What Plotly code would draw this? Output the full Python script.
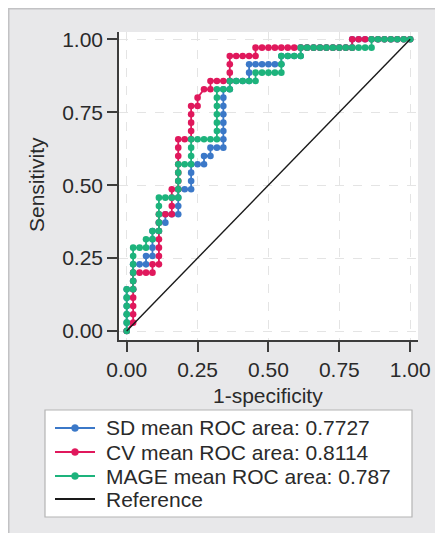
import plotly.graph_objects as go

# ---------------- data (counts) ----------------
N_NEG = 44   # negatives -> 1-specificity steps
N_POS = 35   # positives -> sensitivity steps

sd_fp = [0, 0, 0, 0, 0, 0, 1, 1, 1, 1,
         2, 3, 3, 4, 4, 4, 4, 5, 5, 6, 6, 7, 8, 8, 8, 8, 9, 10, 10, 10, 10, 11, 12, 12, 13, 13, 14,
         15, 15, 15, 15, 15, 15, 15, 15, 16, 16, 17, 18, 19, 19, 19, 20, 21, 22, 23, 24, 24, 25, 26, 27, 27,
         28, 29, 30, 31, 32, 33, 34, 35, 35, 36, 37, 38, 39, 40, 41, 42, 43, 44]
sd_tp = [0, 1, 2, 3, 4, 5, 5, 6, 7, 8,
         8, 8, 9, 9, 10, 11, 12, 12, 13, 13, 14, 14, 14, 15, 16, 17, 17, 17, 18, 19, 20, 20, 20, 21, 21, 22, 22,
         22, 23, 24, 25, 26, 27, 28, 29, 29, 30, 30, 30, 30, 31, 32, 32, 32, 32, 32, 32, 33, 33, 33, 33, 34,
         34, 34, 34, 34, 34, 34, 34, 34, 35, 35, 35, 35, 35, 35, 35, 35, 35, 35]

cv_fp = [0, 1, 1, 1, 1, 1, 1, 1, 2, 3, 4, 4, 5, 5, 5, 5, 5, 5, 5, 6, 7, 7, 7, 7,
         8, 8, 8, 8, 8, 8, 8, 9, 10, 10, 10, 10, 10, 11, 11, 12, 13, 13, 14, 15, 16, 16, 16, 16,
         17, 18, 19, 20, 20, 21, 22, 23, 24, 25, 26, 27, 28, 29, 30, 31, 32, 33, 34, 35, 35,
         36, 37, 38, 39, 40, 41, 42, 43, 44]
cv_tp = [0, 1, 2, 3, 4, 5, 6, 7, 7, 7, 7, 8, 8, 9, 10, 11, 12, 13, 14, 14, 14, 15, 16, 17,
         17, 18, 19, 20, 21, 22, 23, 23, 23, 24, 25, 26, 27, 27, 28, 29, 29, 30, 30, 30, 30, 31, 32, 33,
         33, 33, 33, 33, 34, 34, 34, 34, 34, 34, 34, 34, 34, 34, 34, 34, 34, 34, 34, 34, 35,
         35, 35, 35, 35, 35, 35, 35, 35, 35]

mage_fp = [0, 0, 0, 0, 0, 0, 1, 1, 1, 1, 1, 1, 2, 3, 3, 4, 4, 5, 5, 5, 5, 5,
           6, 7, 8, 8, 8, 8, 8, 9, 10, 10, 10, 10, 11, 12, 13, 14, 14, 14, 14, 14, 14, 14,
           15, 16, 16, 17, 18, 19, 20, 20, 21, 22, 23, 24, 24, 24, 25, 26, 27, 27,
           28, 29, 30, 31, 32, 33, 34, 35, 36, 37, 38, 38, 39, 40, 41, 42, 43, 44]
mage_tp = [0, 1, 2, 3, 4, 5, 5, 6, 7, 8, 9, 10, 10, 10, 11, 11, 12, 12, 13, 14, 15, 16,
           16, 16, 16, 17, 18, 19, 20, 20, 20, 21, 22, 23, 23, 23, 23, 23, 24, 25, 26, 27, 28, 29,
           29, 29, 30, 30, 30, 30, 30, 31, 31, 31, 31, 31, 32, 33, 33, 33, 33, 34,
           34, 34, 34, 34, 34, 34, 34, 34, 34, 34, 34, 35, 35, 35, 35, 35, 35, 35]

series_names = ["SD mean ROC area: 0.7727",
                "CV mean ROC area: 0.8114",
                "MAGE mean ROC area: 0.787",
                "Reference"]
series_colors = ["#3b78c8", "#e0185c", "#1db37c", "#1a1a1a"]
ref_x = [0, 1]
ref_y = [0, 1]
tick_vals = [0, 0.25, 0.5, 0.75, 1.0]

# ---------------- layout geometry ----------------
# page body has an 8px margin; reference pixel coords are converted with OFF
OFF = 8
W, H = 443 - OFF, 533 - OFF
L, R, T, B = 119 - OFF, 25, 32 - OFF, 193
PW = W - L - R
PH = H - T - B
PB = H - B


def pxx(px):
    return (px - OFF - L) / PW


def pxy(py):
    return (PB - (py - OFF)) / PH


FONT = "Liberation Sans, Arial, sans-serif"
TXT = "#2a2a2a"

fig = go.Figure()
curves = [(sd_fp, sd_tp), (cv_fp, cv_tp), (mage_fp, mage_tp)]
for (fp, tp), name, col in zip(curves, series_names[:3], series_colors[:3]):
    fig.add_trace(go.Scatter(
        x=[v / N_NEG for v in fp], y=[v / N_POS for v in tp],
        mode="lines+markers", name=name,
        line=dict(color=col, width=1.8),
        marker=dict(color=col, size=6.6),
        showlegend=False, hoverinfo="skip"))
fig.add_trace(go.Scatter(x=ref_x, y=ref_y, mode="lines", name=series_names[3],
                         line=dict(color=series_colors[3], width=1.4),
                         showlegend=False, hoverinfo="skip"))

shapes = []
# grey panel border (top / left)
shapes.append(dict(type="line", xref="paper", yref="paper", x0=pxx(OFF), x1=pxx(450),
                   y0=pxy(OFF + 0.75), y1=pxy(OFF + 0.75),
                   line=dict(color="#c2c2c4", width=1.5), layer="below"))
shapes.append(dict(type="line", xref="paper", yref="paper", x0=pxx(OFF + 0.75), x1=pxx(OFF + 0.75),
                   y0=pxy(OFF), y1=pxy(540), line=dict(color="#c2c2c4", width=1.5), layer="below"))
# legend box
shapes.append(dict(type="rect", xref="paper", yref="paper", x0=pxx(45), x1=pxx(412),
                   y0=pxy(517), y1=pxy(410), fillcolor="white",
                   line=dict(color="#b4b4b4", width=1.2), layer="below"))

annotations = []
rows = [428, 452, 476, 499]
for i, (name, col) in enumerate(zip(series_names, series_colors)):
    py = rows[i]
    shapes.append(dict(type="line", xref="paper", yref="paper", x0=pxx(55), x1=pxx(95),
                       y0=pxy(py), y1=pxy(py), line=dict(color=col, width=1.8)))
    if i < 3:
        r = 3.5
        shapes.append(dict(type="circle", xref="paper", yref="paper",
                           x0=pxx(75 - r), x1=pxx(75 + r), y0=pxy(py + r), y1=pxy(py - r),
                           fillcolor=col, line=dict(color=col, width=0.5)))
    annotations.append(dict(xref="paper", yref="paper", x=pxx(104), y=pxy(py),
                            xanchor="left", yanchor="middle", text=name, showarrow=False,
                            font=dict(family=FONT, size=21, color=TXT)))

# axis titles
annotations.append(dict(xref="paper", yref="paper", x=pxx(268), y=pxy(395),
                        xanchor="center", yanchor="middle", text="1-specificity",
                        showarrow=False, font=dict(family=FONT, size=21, color=TXT)))
annotations.append(dict(xref="paper", yref="paper", x=pxx(36), y=pxy(185),
                        xanchor="center", yanchor="middle", text="Sensitivity", textangle=-90,
                        showarrow=False, font=dict(family=FONT, size=21, color=TXT)))

x0v = -(126.7 - OFF - L) / 283.5
y0v = -(PB - (331 - OFF)) / 291.7
axis_common = dict(tickvals=tick_vals, tickformat=".2f", showgrid=True, gridcolor="#e4e4e4",
                   griddash="dash", gridwidth=1, zeroline=False, showline=True,
                   linecolor="#3c3c3c", linewidth=1.5, ticks="outside", ticklen=10,
                   tickwidth=1.5, tickcolor="#3c3c3c",
                   tickfont=dict(family=FONT, size=21, color=TXT), fixedrange=True)
fig.update_layout(
    width=W, height=H, margin=dict(l=L, r=R, t=T, b=B, autoexpand=False),
    paper_bgcolor="#e8e8ea", plot_bgcolor="white",
    xaxis=dict(range=[x0v, x0v + PW / 283.5], **axis_common),
    yaxis=dict(range=[y0v, y0v + PH / 291.7], **axis_common),
    shapes=shapes, annotations=annotations, showlegend=False)

fig.write_html("out.html")
